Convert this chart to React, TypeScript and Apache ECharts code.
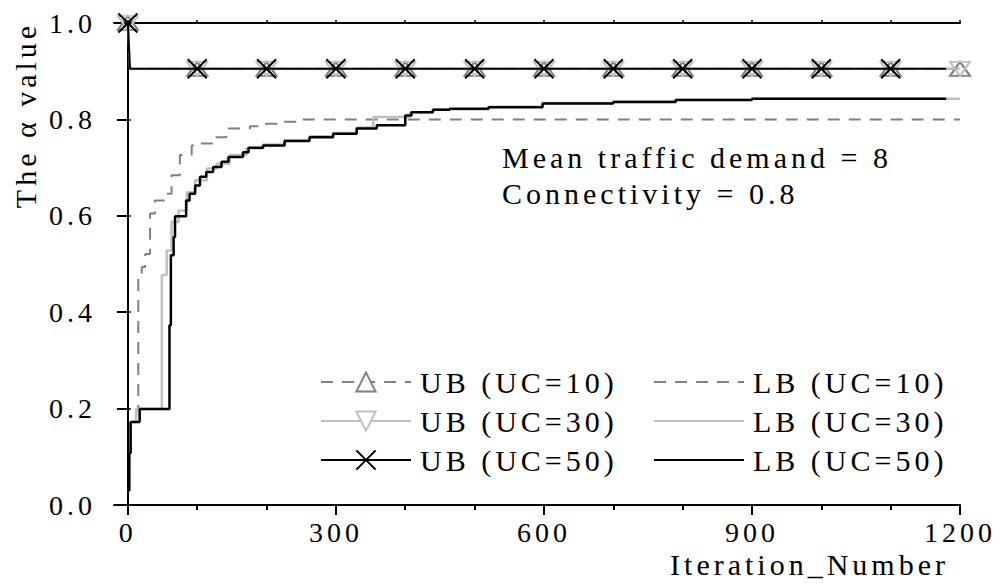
import { useEffect, useRef } from 'react';
import * as echarts from 'echarts';

const FONT = 'Liberation Serif';
const DARK_GRAY = '#808080';
const LIGHT_GRAY = '#c0c0c0';

// Axis ticks and labels
const xLabelTicks = [0, 300, 600, 900, 1200];
const xMinorTicks = [100, 200, 400, 500, 700, 800, 1000, 1100];
const xTopTicks = [0, 100, 200, 300, 400, 500, 600, 700, 800, 900, 1000, 1100, 1200];

// Upper bounds
const ubIter = [0, 3, 100, 200, 300, 400, 500, 600, 700, 800, 900, 1000, 1100, 1200];
const ubUC10 = [1.0, 0.905, 0.905, 0.905, 0.905, 0.905, 0.905, 0.905, 0.905, 0.905, 0.905, 0.905, 0.905, 0.905];
const ubUC30 = [1.0, 0.905, 0.905, 0.905, 0.905, 0.905, 0.905, 0.905, 0.905, 0.905, 0.905, 0.905, 0.905, 0.905];
const ubIter50 = [0, 3, 100, 200, 300, 400, 500, 600, 700, 800, 900, 1000, 1100, 1180];
const ubUC50 = [1.0, 0.905, 0.905, 0.905, 0.905, 0.905, 0.905, 0.905, 0.905, 0.905, 0.905, 0.905, 0.905, 0.905];

// Lower bounds (step curves: value reached at each iteration)
const lbIter10 = [0, 2, 4, 12, 15, 20, 25, 32, 39, 56, 63, 75, 92, 104, 126, 142, 176, 190, 215, 248, 1200];
const lbUC10 = [0.03, 0.108, 0.172, 0.199, 0.473, 0.494, 0.521, 0.605, 0.632, 0.646, 0.684, 0.726, 0.746, 0.75, 0.763, 0.781, 0.786, 0.791, 0.795, 0.8, 0.8];

const lbIter30 = [0, 2, 4, 12, 49, 56, 63, 73, 85, 97, 114, 128, 147, 171, 195, 226, 262, 296, 330, 354, 407, 440, 520, 598, 700, 790, 900, 1200];
const lbUC30 = [0.03, 0.108, 0.172, 0.199, 0.477, 0.528, 0.587, 0.611, 0.649, 0.674, 0.698, 0.708, 0.726, 0.74, 0.748, 0.757, 0.765, 0.772, 0.783, 0.805, 0.815, 0.821, 0.826, 0.834, 0.837, 0.841, 0.843, 0.843];

const lbIter50 = [0, 2, 4, 17, 60, 62, 66, 68, 84, 89, 97, 104, 113, 123, 135, 145, 166, 174, 195, 226, 262, 296, 330, 359, 400, 409, 440, 464, 520, 598, 700, 790, 900, 1180];
const lbUC50 = [0.03, 0.108, 0.172, 0.199, 0.373, 0.518, 0.556, 0.599, 0.632, 0.646, 0.663, 0.681, 0.691, 0.701, 0.712, 0.722, 0.732, 0.741, 0.746, 0.755, 0.763, 0.77, 0.781, 0.788, 0.808, 0.815, 0.82, 0.822, 0.825, 0.833, 0.836, 0.84, 0.843, 0.843];

const CROSS = 'path://M0,0L10,10M10,0L0,10';
const TRI_DOWN = 'path://M0,0L20,0L10,14Z';

const pairs = (xs: number[], ys: number[]) => xs.map((x, i) => [x, ys[i]]);

// Markers only at whole hundreds
const markedPairs = (xs: number[], ys: number[]) =>
  xs.map((x, i) => (x % 100 === 0 ? [x, ys[i]] : { value: [x, ys[i]], symbol: 'none' }));

export default function App() {
  const ref = useRef<HTMLDivElement>(null);

  useEffect(() => {
    if (!ref.current) return;
    const chart = echarts.init(ref.current, null, { renderer: 'svg' });

    const txt = { fontFamily: FONT, color: '#000' };
    const hiddenIcon = { color: 'transparent', borderColor: 'transparent', opacity: 0 };

    const lbSeries = (name: string, xs: number[], ys: number[], color: string, type: any, width: number) => ({
      name,
      type: 'line',
      step: 'end',
      data: pairs(xs, ys),
      showSymbol: false,
      symbol: 'circle',
      lineStyle: { color, width, type },
      itemStyle: { color },
      z: 2,
    });

    const legendBase = {
      orient: 'vertical',
      top: 362,
      itemWidth: 90,
      itemHeight: 24,
      itemGap: 9,
      selectedMode: false,
      textStyle: { fontSize: 30, lineHeight: 30, padding: [0, 0, 0, 4], ...txt },
    };

    chart.setOption({
      animation: false,
      textStyle: { fontFamily: FONT },
      grid: { left: 114, right: 41, top: 23, bottom: 82 },
      xAxis: [
        {
          type: 'value',
          position: 'bottom',
          min: -20,
          max: 1200,
          axisLine: { show: true, lineStyle: { color: '#000', width: 2 } },
          axisTick: { show: true, customValues: xLabelTicks, length: 10, lineStyle: { color: '#000', width: 2 } },
          axisLabel: {
            show: true,
            customValues: xLabelTicks,
            margin: 13,
            fontSize: 28,
            ...txt,
            formatter: (v: number) => String(v),
          },
          splitLine: { show: false },
        },
        {
          type: 'value',
          position: 'bottom',
          min: -20,
          max: 1200,
          axisLine: { show: false },
          axisTick: { show: true, customValues: xMinorTicks, length: 5, lineStyle: { color: '#000', width: 2 } },
          axisLabel: { show: false },
          splitLine: { show: false },
        },
        {
          type: 'value',
          position: 'top',
          min: -20,
          max: 1200,
          axisLine: { show: true, lineStyle: { color: '#000', width: 2 } },
          axisTick: { show: true, customValues: xTopTicks, length: 3, lineStyle: { color: '#000', width: 1.5 } },
          axisLabel: { show: false },
          splitLine: { show: false },
        },
      ],
      yAxis: [
        {
          type: 'value',
          position: 'left',
          min: 0,
          max: 1,
          interval: 0.2,
          axisLine: { show: true, lineStyle: { color: '#000', width: 2 } },
          axisTick: { show: true, length: 11, lineStyle: { color: '#000', width: 2 } },
          axisLabel: { show: true, margin: 18, fontSize: 28, ...txt, formatter: (v: number) => v.toFixed(1) },
          splitLine: { show: false },
        },
        {
          type: 'value',
          position: 'right',
          min: 0,
          max: 1,
          interval: 0.2,
          axisLine: { show: true, lineStyle: { color: '#000', width: 2 } },
          axisTick: { show: true, length: 3, lineStyle: { color: '#000', width: 1.5 } },
          axisLabel: { show: false },
          splitLine: { show: false },
        },
      ],
      legend: [
        {
          ...legendBase,
          left: 315,
          data: [
            { name: 'UB (UC=10)', itemStyle: { color: '#fff' } },
            { name: 'UB (UC=30)', itemStyle: { color: '#fff' } },
            { name: 'UB (UC=50)' },
          ],
        },
        {
          ...legendBase,
          left: 648,
          data: [
            { name: 'LB (UC=10)', itemStyle: hiddenIcon },
            { name: 'LB (UC=30)', itemStyle: hiddenIcon },
            { name: 'LB (UC=50)', itemStyle: hiddenIcon },
          ],
        },
      ],
      series: [
        lbSeries('LB (UC=10)', lbIter10, lbUC10, DARK_GRAY, [12, 9], 2),
        lbSeries('LB (UC=30)', lbIter30, lbUC30, LIGHT_GRAY, 'solid', 2.5),
        lbSeries('LB (UC=50)', lbIter50, lbUC50, '#000', 'solid', 2.5),
        {
          name: 'UB (UC=10)',
          type: 'line',
          data: markedPairs(ubIter, ubUC10),
          symbol: 'triangle',
          symbolSize: [20, 14],
          lineStyle: { color: DARK_GRAY, width: 2, type: [12, 9] },
          itemStyle: { color: 'transparent', borderColor: DARK_GRAY, borderWidth: 2 },
          z: 3,
        },
        {
          name: 'UB (UC=30)',
          type: 'line',
          data: markedPairs(ubIter, ubUC30),
          symbol: TRI_DOWN,
          symbolSize: [20, 14],
          lineStyle: { color: LIGHT_GRAY, width: 2 },
          itemStyle: { color: 'transparent', borderColor: LIGHT_GRAY, borderWidth: 2 },
          z: 3,
        },
        {
          name: 'UB (UC=50)',
          type: 'line',
          data: markedPairs(ubIter50, ubUC50),
          symbol: CROSS,
          symbolSize: 19,
          lineStyle: { color: '#000', width: 2 },
          itemStyle: { color: 'transparent', borderColor: '#000', borderWidth: 2 },
          z: 4,
        },
      ],
      graphic: [
        {
          type: 'text',
          left: 502,
          top: 142,
          style: { text: 'Mean traffic demand = 8', fontSize: 30, fontFamily: FONT, fill: '#000' },
        },
        {
          type: 'text',
          left: 502,
          top: 178,
          style: { text: 'Connectivity = 0.8', fontSize: 30, fontFamily: FONT, fill: '#000' },
        },
        {
          type: 'text',
          x: 949,
          y: 564,
          style: {
            text: 'Iteration_Number',
            fontSize: 30,
            fontFamily: FONT,
            fill: '#000',
            align: 'right',
            verticalAlign: 'middle',
          },
        },
        {
          type: 'text',
          x: 25,
          y: 115,
          rotation: Math.PI / 2,
          style: {
            text: 'The α value',
            fontSize: 30,
            fontFamily: FONT,
            fill: '#000',
            align: 'center',
            verticalAlign: 'middle',
          },
        },
      ],
    });

    return () => chart.dispose();
  }, []);

  return <div ref={ref} style={{ width: 1001, height: 587, margin: -8, letterSpacing: '4px' }} />;
}
